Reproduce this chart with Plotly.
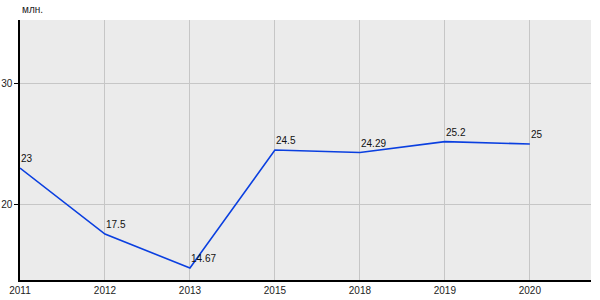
import plotly.graph_objects as go

years = ["2011", "2012", "2013", "2015", "2018", "2019", "2020"]
values = [23, 17.5, 14.67, 24.5, 24.29, 25.2, 25]
labels = ["23", "17.5", "14.67", "24.5", "24.29", "25.2", "25"]
y_ticks = [20, 30]
unit = "млн."

fig = go.Figure()
fig.add_trace(go.Scatter(
    x=list(range(len(years))), y=values, mode="lines",
    line=dict(color="#0a3fe0", width=1.6),
    cliponaxis=False, hoverinfo="skip",
))
annots = [dict(
    x=i, y=v, text=t, xref="x", yref="y", xanchor="left", yanchor="bottom",
    showarrow=False, xshift=-1, yshift=2,
    font=dict(family="Arial, Liberation Sans", size=10, color="#111"),
) for i, (v, t) in enumerate(zip(values, labels))]
annots.append(dict(
    text=unit, xref="paper", yref="paper", x=0, y=1,
    xanchor="left", yanchor="bottom", yshift=3, showarrow=False,
    font=dict(family="Arial, Liberation Sans", size=10, color="#222"),
))
fig.update_layout(
    width=600, height=300,
    margin=dict(l=20, r=9, t=20, b=20),
    paper_bgcolor="white", plot_bgcolor="#ebebeb",
    showlegend=False,
    font=dict(family="Arial, Liberation Sans", size=10, color="#222"),
    xaxis=dict(
        range=[0, 6.72], tickmode="array",
        tickvals=list(range(len(years))), ticktext=years,
        showgrid=True, gridcolor="#c6c6c6", gridwidth=1,
        showline=True, linecolor="black", linewidth=1.5,
        ticks="", zeroline=False, fixedrange=True, automargin=False,
    ),
    yaxis=dict(
        range=[13.67, 35.33], tickmode="array", tickvals=y_ticks,
        showgrid=True, gridcolor="#c6c6c6", gridwidth=1,
        showline=True, linecolor="black", linewidth=1.5,
        ticks="outside", ticklen=4, tickcolor="black",
        zeroline=False, fixedrange=True, automargin=False,
    ),
    annotations=annots,
)
fig.write_html("out.html")
